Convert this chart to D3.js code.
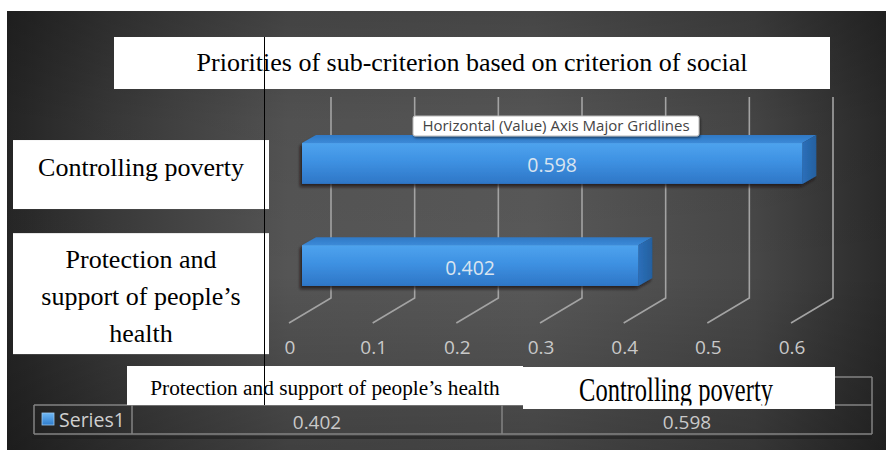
<!DOCTYPE html>
<html>
<head>
<meta charset="utf-8">
<script src="https://cdn.jsdelivr.net/npm/d3@7"></script>
<style>
  html, body { margin: 0; padding: 0; background: #ffffff; }
  svg { display: block; }
</style>
</head>
<body>
<svg id="chart" width="886" height="452"></svg>
<script>
// ---- chart data ----
const title = "Priorities of sub-criterion based on criterion of social";
const categories = ["Protection and support of people’s health", "Controlling poverty"];
const values = [0.402, 0.598];
const seriesName = "Series1";
const tickValues = [0, 0.1, 0.2, 0.3, 0.4, 0.5, 0.6];
const tooltipText = "Horizontal (Value) Axis Major Gridlines";

// ---- layout ----
const W = 886, H = 452;
const svg = d3.select("#chart");
const defs = svg.append("defs");

// background gradient (dark edges, lighter centre)
const bgH = defs.append("linearGradient").attr("id", "bgH").attr("x1", 0).attr("x2", 1).attr("y1", 0).attr("y2", 0);
[[0, "#262626"], [0.12, "#3a3a3a"], [0.32, "#555555"], [0.6, "#595959"], [0.85, "#474747"], [1, "#2a2a2a"]]
  .forEach(([o, c]) => bgH.append("stop").attr("offset", o).attr("stop-color", c));
const bgV = defs.append("linearGradient").attr("id", "bgV").attr("x1", 0).attr("x2", 0).attr("y1", 0).attr("y2", 1);
[[0, 0.22], [0.25, 0.05], [0.6, 0], [1, 0.25]]
  .forEach(([o, a]) => bgV.append("stop").attr("offset", o).attr("stop-color", "#000").attr("stop-opacity", a));

// bar face gradients
const gFront = defs.append("linearGradient").attr("id", "barFront").attr("x1", 0).attr("x2", 0).attr("y1", 0).attr("y2", 1);
[[0, "#4ea3ee"], [0.45, "#3e91e2"], [1, "#2e76c6"]]
  .forEach(([o, c]) => gFront.append("stop").attr("offset", o).attr("stop-color", c));
const gTop = defs.append("linearGradient").attr("id", "barTop").attr("x1", 0).attr("x2", 0).attr("y1", 0).attr("y2", 1);
[[0, "#2f78c4"], [1, "#3c8ad8"]]
  .forEach(([o, c]) => gTop.append("stop").attr("offset", o).attr("stop-color", c));
const gSide = defs.append("linearGradient").attr("id", "barSide").attr("x1", 0).attr("x2", 1).attr("y1", 0).attr("y2", 0);
[[0, "#2b6fba"], [1, "#24609f"]]
  .forEach(([o, c]) => gSide.append("stop").attr("offset", o).attr("stop-color", c));
const gKey = defs.append("linearGradient").attr("id", "keyFill").attr("x1", 0).attr("x2", 0).attr("y1", 0).attr("y2", 1);
[[0, "#6fb8f5"], [1, "#2e7ccc"]]
  .forEach(([o, c]) => gKey.append("stop").attr("offset", o).attr("stop-color", c));

const shadow = defs.append("filter").attr("id", "barShadow").attr("x", "-10%").attr("y", "-30%").attr("width", "120%").attr("height", "170%");
shadow.append("feDropShadow").attr("dx", -2).attr("dy", 3).attr("stdDeviation", 1.6)
  .attr("flood-color", "#1a0e08").attr("flood-opacity", 0.75);
const tipShadow = defs.append("filter").attr("id", "tipShadow").attr("x", "-5%").attr("y", "-30%").attr("width", "110%").attr("height", "170%");
tipShadow.append("feDropShadow").attr("dx", 1).attr("dy", 1.5).attr("stdDeviation", 1)
  .attr("flood-color", "#000").attr("flood-opacity", 0.5);

// chart area background
const area = { x: 7, y: 11, w: W - 7, h: 439 };
svg.append("rect").attr("x", area.x).attr("y", area.y).attr("width", area.w).attr("height", area.h).attr("fill", "url(#bgH)");
svg.append("rect").attr("x", area.x).attr("y", area.y).attr("width", area.w).attr("height", area.h).attr("fill", "url(#bgV)");

// ---- scales ----
// back wall of the 3-D plot
const xBack = d3.scaleLinear().domain([0, 0.6]).range([331, 833]);
const floorShift = { dx: -42, dy: 25 };       // back wall -> front edge of floor
const barShift = -29;                          // front face of bars relative to back wall
const xBar = d3.scaleLinear().domain(xBack.domain()).range(xBack.range().map(v => v + barShift));
const depth = { dx: 14, dy: -8 };              // bar depth (top / side faces)
const wallTop = 97, wallBottom = 298;

const y = d3.scaleBand()
  .domain(categories.slice().reverse())
  .range([92, 337])
  .paddingInner(0.6)
  .paddingOuter(0.5);

// ---- gridlines (wall + floor) ----
svg.append("g").selectAll("path").data(tickValues).join("path")
  .attr("d", t => {
    const x = xBack(t);
    return `M${x},${wallTop}V${wallBottom}L${x + floorShift.dx},${wallBottom + floorShift.dy}`;
  })
  .attr("fill", "none").attr("stroke", "#a3a3a3").attr("stroke-width", 1.6);

// ---- 3-D bars ----
const bars = svg.append("g").selectAll("g").data(categories.map((c, i) => ({ c, v: values[i] }))).join("g")
  .attr("filter", "url(#barShadow)");
bars.each(function (d) {
  const g = d3.select(this);
  const x0 = xBar(0), x1 = xBar(d.v), y0 = y(d.c), h = y.bandwidth();
  g.append("path").attr("fill", "url(#barTop)")
    .attr("d", `M${x0},${y0}L${x0 + depth.dx},${y0 + depth.dy}L${x1 + depth.dx},${y0 + depth.dy}L${x1},${y0}Z`);
  g.append("path").attr("fill", "url(#barSide)")
    .attr("d", `M${x1},${y0}L${x1 + depth.dx},${y0 + depth.dy}L${x1 + depth.dx},${y0 + h + depth.dy}L${x1},${y0 + h}Z`);
  g.append("rect").attr("x", x0).attr("y", y0).attr("width", x1 - x0).attr("height", h).attr("fill", "url(#barFront)");
});

// data labels on the bars
const fmtVal = d3.format(".3f");
svg.append("g").selectAll("text").data(categories.map((c, i) => ({ c, v: values[i] }))).join("text")
  .attr("x", d => (xBar(0) + xBar(d.v)) / 2)
  .attr("y", d => y(d.c) + y.bandwidth() / 2 + 9)
  .attr("text-anchor", "middle")
  .attr("font-family", "'Open Sans', sans-serif").attr("font-size", 19.5)
  .attr("fill", "#d9e4f0")
  .text(d => fmtVal(d.v));

// value axis tick labels along the front edge of the floor
const fmtTick = d3.format("~g");
svg.append("g").selectAll("text").data(tickValues).join("text")
  .attr("x", t => xBack(t) + floorShift.dx + 1)
  .attr("y", 354)
  .attr("text-anchor", "middle")
  .attr("font-family", "'Open Sans', sans-serif").attr("font-size", 19)
  .attr("fill", "#c9c9c9")
  .text(t => fmtTick(t));

// ---- data table ----
const tbl = { left: 34, keyRight: 132, right: 872, top: 377, mid: 405, bottom: 434 };
const col = d3.scaleBand().domain(categories).range([tbl.keyRight, tbl.right]);
const tg = svg.append("g");
tg.append("rect").attr("x", tbl.left - 2).attr("y", tbl.bottom + 2).attr("width", tbl.right - tbl.left + 2).attr("height", 3)
  .attr("fill", "#1e1e1e").attr("opacity", 0.6);
const tStroke = "#828282";
tg.append("path")
  .attr("d", [
    `M${tbl.keyRight},${tbl.top}H${tbl.right}`,
    `M${tbl.left},${tbl.mid}H${tbl.right}`,
    `M${tbl.left},${tbl.bottom}H${tbl.right}`,
    `M${tbl.left},${tbl.mid}V${tbl.bottom}`,
    ...categories.map(c => `M${col(c)},${tbl.top}V${tbl.bottom}`),
    `M${tbl.right},${tbl.top}V${tbl.bottom}`
  ].join(""))
  .attr("fill", "none").attr("stroke", tStroke).attr("stroke-width", 1.5);
tg.selectAll("text.val").data(categories.map((c, i) => ({ c, v: values[i] }))).join("text")
  .attr("class", "val")
  .attr("x", d => col(d.c) + col.bandwidth() / 2)
  .attr("y", 428.5)
  .attr("text-anchor", "middle")
  .attr("font-family", "'Open Sans', sans-serif").attr("font-size", 19)
  .attr("fill", "#c9c9c9")
  .text(d => fmtVal(d.v));
tg.append("rect").attr("x", 42).attr("y", 413).attr("width", 12).attr("height", 12)
  .attr("fill", "url(#keyFill)").attr("stroke", "#9cc8ef").attr("stroke-width", 0.8);
tg.append("text").attr("x", 59).attr("y", 427)
  .attr("font-family", "'Open Sans', sans-serif").attr("font-size", 19.5)
  .attr("fill", "#cfcfcf").text(seriesName);

// ---- gridline tooltip ----
const tip = svg.append("g").attr("transform", "translate(413,116)");
tip.append("rect").attr("width", 286).attr("height", 20).attr("rx", 2)
  .attr("fill", "#ffffff").attr("stroke", "#b8b8b8").attr("filter", "url(#tipShadow)");
tip.append("text").attr("x", 143).attr("y", 15).attr("text-anchor", "middle")
  .attr("font-family", "'Open Sans', sans-serif").attr("font-size", 15)
  .attr("fill", "#444").text(tooltipText);

// ---- title ----
svg.append("rect").attr("x", 114).attr("y", 37).attr("width", 716).attr("height", 52).attr("fill", "#fff");
svg.append("text").attr("x", 472).attr("y", 71).attr("text-anchor", "middle")
  .attr("font-family", "'Liberation Serif', 'Times New Roman', serif").attr("font-size", 26)
  .attr("fill", "#000").text(title);

// ---- category labels (left of the bars) ----
const serif = "'Liberation Serif', 'Times New Roman', serif";
const labelBoxes = { "Controlling poverty": { top: -3, height: 69, base: 36 },
                     "Protection and support of people’s health": { top: -12, height: 121, base: 35 } };
const lineGap = 37;
categories.forEach(c => {
  const b = labelBoxes[c];
  const top = y(c) + b.top;
  svg.append("rect").attr("x", 13).attr("y", top).attr("width", 256).attr("height", b.height).attr("fill", "#fff");
  const t = svg.append("text").attr("text-anchor", "middle")
    .attr("font-family", serif).attr("font-size", 26).attr("fill", "#000");
  // wrap the label into lines no wider than the box allows
  const words = c.split(" ");
  const lines = [];
  let cur = [];
  const probe = svg.append("text").attr("font-family", serif).attr("font-size", 26);
  words.forEach(w => {
    const test = cur.concat(w).join(" ");
    probe.text(test);
    if (cur.length && probe.node().getComputedTextLength() > 215) { lines.push(cur.join(" ")); cur = [w]; }
    else cur.push(w);
  });
  lines.push(cur.join(" "));
  probe.remove();
  lines.forEach((ln, i) => t.append("tspan").attr("x", 141).attr("y", top + b.base + i * lineGap).text(ln));
});

// ---- category labels above the data table ----
svg.append("rect").attr("x", 127).attr("y", 366).attr("width", 396).attr("height", 39).attr("fill", "#fff");
svg.append("text").attr("x", 325).attr("y", 395).attr("text-anchor", "middle")
  .attr("font-family", serif).attr("font-size", 21.3).attr("fill", "#000").text(categories[0]);
// second label is cut off at the bottom of its box
defs.append("clipPath").attr("id", "cpBox").append("rect").attr("x", 523).attr("y", 367).attr("width", 312).attr("height", 38.5);
svg.append("rect").attr("x", 523).attr("y", 367).attr("width", 312).attr("height", 42).attr("fill", "#fff");
svg.append("g").attr("clip-path", "url(#cpBox)")
  .append("text").attr("text-anchor", "middle")
  .attr("transform", "translate(676,401) scale(1,1.36)")
  .attr("font-family", serif).attr("font-size", 24.5).attr("fill", "#000").text(categories[1]);

// thin vertical rule running through the label boxes
svg.append("line").attr("x1", 264.5).attr("x2", 264.5).attr("y1", 37).attr("y2", 405)
  .attr("stroke", "#000").attr("stroke-width", 1);
</script>
</body>
</html>
